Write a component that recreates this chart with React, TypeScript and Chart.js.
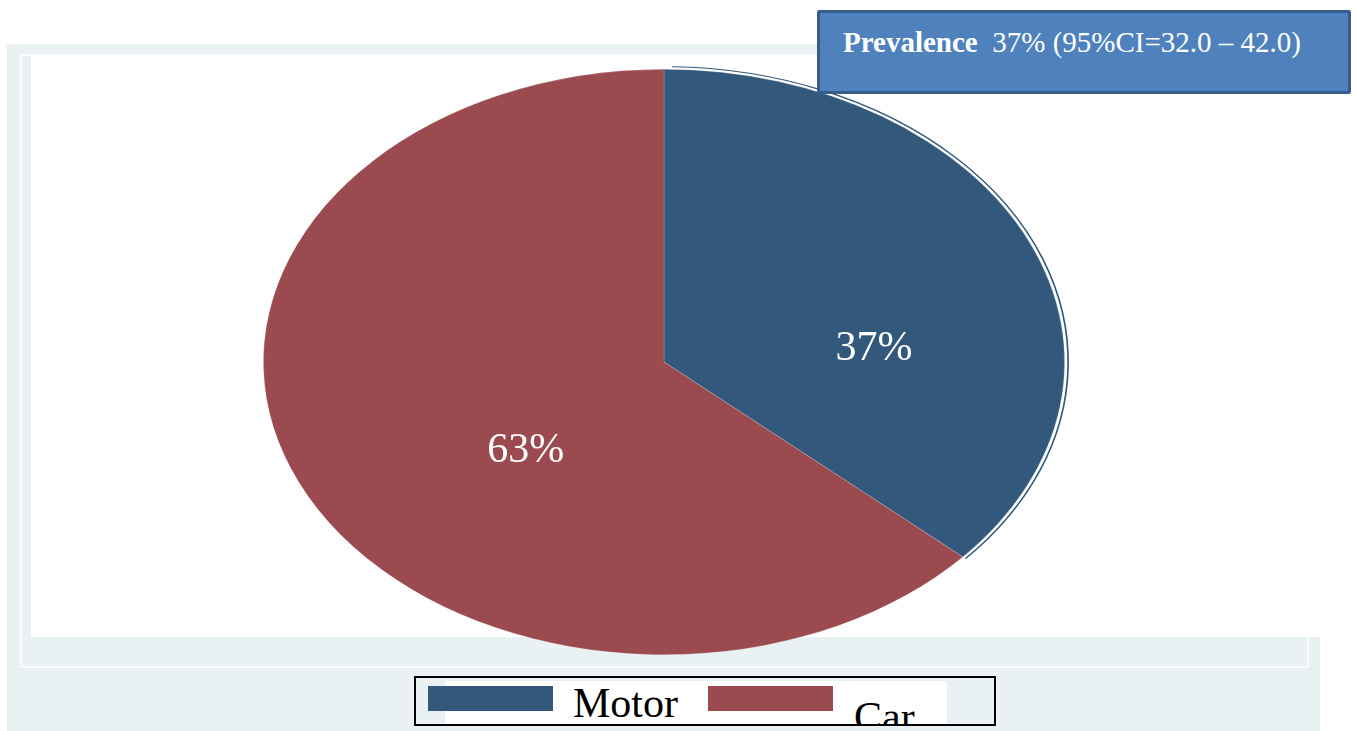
import React, { useEffect, useRef } from "react";
import { Chart, registerables } from "chart.js";

Chart.register(...registerables);

// ---- data ----
const categories = ["Motor", "Car"];
const values = [36.6, 63.4];
const sliceColors = ["#32587c", "#9b4a50"];
const prevalenceLabel = "Prevalence";
const prevalenceValue = "37% (95%CI=32.0 \u2013 42.0)";
// label placement inside each slice (fraction of slice angle, fraction of radius)
const labelAngleFrac = [0.645, 0.425];
const labelRadiusFrac = [0.526, 0.459];

const W = 1357;
const H = 731;
const CX = 664;
const CY = 362;
const RY = 293;
const RX = 401;
const SX = RX / RY;

const ellipsePlugin = {
  id: "ellipse",
  beforeDatasetsDraw(chart: any) {
    const ctx = chart.ctx;
    const meta = chart.getDatasetMeta(0);
    const a = meta.data[0];
    ctx.save();
    ctx.translate(a.x, a.y);
    ctx.scale(SX, 1);
    ctx.translate(-a.x, -a.y);
  },
  afterDatasetsDraw(chart: any) {
    const ctx = chart.ctx;
    const meta = chart.getDatasetMeta(0);
    // thin outer ring around first slice
    const a0 = meta.data[0];
    ctx.beginPath();
    ctx.arc(a0.x, a0.y, a0.outerRadius + 2.6, a0.startAngle + 0.02, a0.endAngle);
    ctx.strokeStyle = sliceColors[0];
    ctx.lineWidth = 1.2;
    ctx.stroke();
    ctx.restore();
    // percentage labels
    const total = values.reduce((s, v) => s + v, 0);
    ctx.save();
    ctx.fillStyle = "#ffffff";
    ctx.font = "42px 'Liberation Serif', 'Times New Roman', serif";
    ctx.textAlign = "center";
    ctx.textBaseline = "middle";
    meta.data.forEach((arc: any, i: number) => {
      const ang = arc.startAngle + labelAngleFrac[i] * (arc.endAngle - arc.startAngle);
      const r = labelRadiusFrac[i] * arc.outerRadius;
      const x = arc.x + Math.cos(ang) * r * SX;
      const y = arc.y + Math.sin(ang) * r;
      ctx.fillText(Math.round((values[i] / total) * 100) + "%", x, y);
    });
    ctx.restore();
  },
};

export default function App() {
  const ref = useRef<HTMLCanvasElement>(null);
  useEffect(() => {
    if (!ref.current) return;
    const chart = new Chart(ref.current, {
      type: "pie",
      data: {
        labels: categories,
        datasets: [
          {
            data: values,
            backgroundColor: sliceColors,
            borderWidth: 0.6,
            borderColor: "rgba(255,255,255,0.25)",
            hoverOffset: 0,
          },
        ],
      },
      options: {
        responsive: false,
        animation: false,
        events: [],
        layout: {
          padding: {
            left: CX - RY,
            right: W - (CX + RY),
            top: CY - RY,
            bottom: H - (CY + RY),
          },
        },
        plugins: {
          legend: { display: false },
          tooltip: { enabled: false },
        },
      },
      plugins: [ellipsePlugin],
    });
    return () => chart.destroy();
  }, []);

  const serif = "'Liberation Serif', 'Times New Roman', serif";

  return (
    <div style={{ position: "fixed", left: 0, top: 0, width: W, height: H, background: "#ffffff", overflow: "hidden" }}>
      {/* background frame */}
      <div style={{ position: "absolute", left: 7, top: 44, width: 1313, height: 687, background: "#e9f1f3" }} />
      <div style={{ position: "absolute", left: 20, top: 54, width: 1289, height: 614, border: "2px solid #f8fbfb", boxSizing: "border-box" }} />
      <div style={{ position: "absolute", left: 31, top: 56, width: 1289, height: 581, background: "#ffffff" }} />
      <canvas ref={ref} width={W} height={H} style={{ position: "absolute", left: 0, top: 0, width: W, height: H }} />
      {/* prevalence box */}
      <div
        style={{
          position: "absolute",
          left: 817,
          top: 10,
          width: 534,
          height: 84,
          boxSizing: "border-box",
          border: "3px solid #385d8a",
          borderRadius: 2,
          background: "#4f81bd",
        }}
      >
        <div
          style={{
            position: "absolute",
            left: 23,
            top: 15,
            fontFamily: serif,
            fontSize: 29,
            lineHeight: "29px",
            color: "#ffffff",
            whiteSpace: "pre",
          }}
        >
          <b>{prevalenceLabel}</b>
          {"  " + prevalenceValue}
        </div>
      </div>
      {/* legend */}
      <div
        style={{
          position: "absolute",
          left: 414,
          top: 676,
          width: 582,
          height: 50,
          boxSizing: "border-box",
          border: "2.5px solid #000000",
          background: "#e9f1f3",
          overflow: "hidden",
        }}
      >
        <div style={{ position: "absolute", left: 29, top: 3, width: 502, height: 50, background: "#ffffff" }} />
        {categories.map((c, i) => (
          <React.Fragment key={c}>
            <div
              style={{
                position: "absolute",
                left: 12 + i * 280,
                top: 8,
                width: 125,
                height: 25,
                background: sliceColors[i],
              }}
            />
            <div
              style={{
                position: "absolute",
                left: 157 + i * 281,
                top: 4 + i * 14,
                fontFamily: serif,
                fontSize: 42,
                lineHeight: "42px",
                color: "#000000",
                whiteSpace: "pre",
              }}
            >
              {c}
            </div>
          </React.Fragment>
        ))}
      </div>
    </div>
  );
}
